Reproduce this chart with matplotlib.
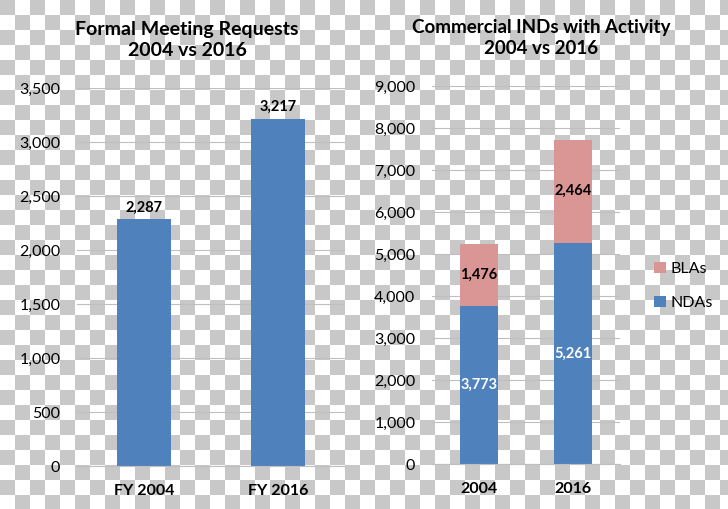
import matplotlib.pyplot as plt
import numpy as np

plt.rcParams['font.family'] = ['Lato', 'DejaVu Sans']

# left chart data
meet_cats = ["FY 2004", "FY 2016"]
meet_vals = [2287, 3217]
meet_ticks = [0, 500, 1000, 1500, 2000, 2500, 3000, 3500]

# right chart data
ind_cats = ["2004", "2016"]
ndas = [3773, 5261]
blas = [1476, 2464]
ind_ticks = [0, 1000, 2000, 3000, 4000, 5000, 6000, 7000, 8000, 9000]

blue = "#4F81BD"
pink = "#D99694"
grid_c = "#BFBFBF"

fig = plt.figure(figsize=(7.28, 5.09), dpi=100)

# checkerboard background (fake transparency)
sq = 15
ny, nx = 509 // sq + 2, 728 // sq + 2
board = (np.add.outer(np.arange(ny), np.arange(nx)) % 2).astype(float)
bg = fig.add_axes([0, 0, 1, 1], zorder=-10)
bg.imshow(board, cmap="gray", vmin=-3.6, vmax=1, interpolation="nearest",
          extent=[0, nx * sq, ny * sq, 0])
bg.set_xlim(0, 728)
bg.set_ylim(509, 0)
bg.axis("off")


def style(ax, ticks):
    for s in ["top", "right", "left"]:
        ax.spines[s].set_visible(False)
    ax.spines["bottom"].set_color(grid_c)
    ax.set_yticks(ticks)
    ax.set_yticklabels([f"{t:,}" for t in ticks], fontsize=11.5)
    ax.tick_params(axis="y", length=0, pad=12)
    ax.tick_params(axis="x", length=0, pad=13)
    ax.grid(axis="y", color=grid_c, lw=0.8)
    ax.set_axisbelow(True)
    ax.patch.set_alpha(0)


# left: formal meeting requests
ax1 = fig.add_axes([77 / 728, 1 - 466 / 509, 268 / 728, 378 / 509])
x1 = np.arange(len(meet_cats))
ax1.bar(x1, meet_vals, width=0.41, color=blue)
ax1.set_xlim(-0.5, 1.5)
ax1.set_ylim(0, 3500)
style(ax1, meet_ticks)
ax1.set_xticks(x1)
ax1.set_xticklabels(meet_cats, fontsize=11.5, fontweight="bold")
for xi, v in zip(x1, meet_vals):
    ax1.text(xi, v + 40, f"{v:,}", ha="center", va="bottom",
             fontsize=10.5, fontweight="bold")
fig.text(187 / 728, 1 - 40 / 509, "Formal Meeting Requests\n2004 vs 2016",
         ha="center", va="center", fontsize=14, fontweight="bold",
         linespacing=1.3)

# right: commercial INDs
ax2 = fig.add_axes([432 / 728, 1 - 464 / 509, 188 / 728, 378 / 509])
x2 = np.arange(len(ind_cats))
ax2.bar(x2, ndas, width=0.4, color=blue, label="NDAs")
ax2.bar(x2, blas, width=0.4, bottom=ndas, color=pink, label="BLAs")
ax2.set_xlim(-0.5, 1.5)
ax2.set_ylim(0, 9000)
style(ax2, ind_ticks)
ax2.set_xticks(x2)
ax2.set_xticklabels(ind_cats, fontsize=11.5, fontweight="bold")
for xi, n, b in zip(x2, ndas, blas):
    ax2.text(xi, n * 0.5, f"{n:,}", ha="center", va="center",
             fontsize=10.5, fontweight="bold", color="white")
    ax2.text(xi, n + b * 0.5, f"{b:,}", ha="center", va="center",
             fontsize=10.5, fontweight="bold", color="black")
fig.text(541 / 728, 1 - 38 / 509, "Commercial INDs with Activity\n2004 vs 2016",
         ha="center", va="center", fontsize=13.5, fontweight="bold",
         linespacing=1.3)

h, l = ax2.get_legend_handles_labels()
fig.legend(h[::-1], l[::-1], loc="center left",
           bbox_to_anchor=(640 / 728, 1 - 286 / 509), frameon=False,
           fontsize=11.5, handlelength=0.7, handleheight=0.7,
           handletextpad=0.3, labelspacing=1.2)

fig.savefig("out.png", dpi=100)
